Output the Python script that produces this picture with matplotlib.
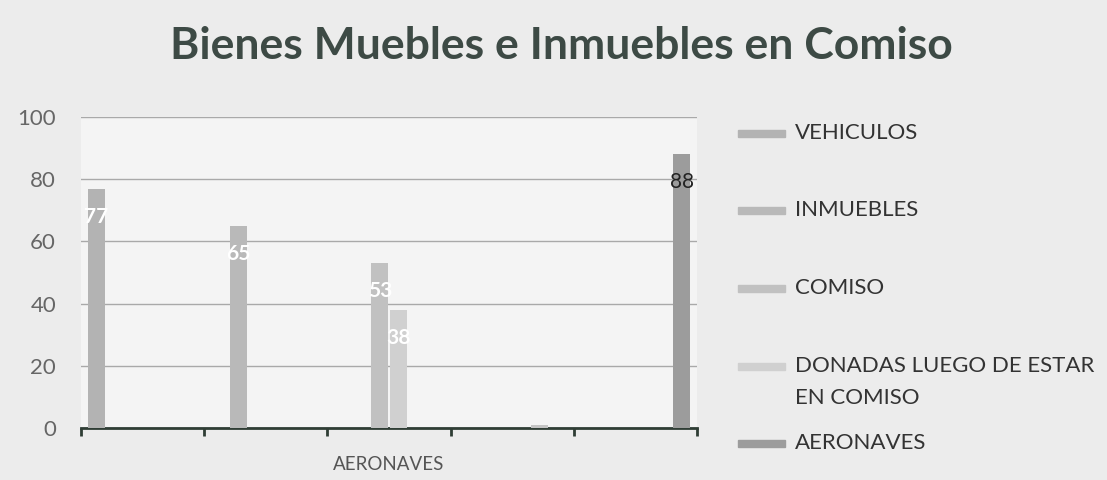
import matplotlib.pyplot as plt
from matplotlib.patches import Rectangle

# categories along x (only the middle one carries a label in the original)
categories = ['', '', 'AERONAVES', '', '']

# one list per series, one value per category
series_names = ['VEHICULOS', 'INMUEBLES', 'COMISO',
                'DONADAS LUEGO DE ESTAR\nEN COMISO', '', 'AERONAVES']
vehiculos = [77, 0, 0, 0, 0]
inmuebles = [0, 65, 0, 0, 0]
comiso = [0, 0, 53, 0, 0]
donadas = [0, 0, 38, 0, 0]
sin_nombre = [0, 0, 0, 1, 0]
aeronaves = [0, 0, 0, 0, 88]
series_values = [vehiculos, inmuebles, comiso, donadas, sin_nombre, aeronaves]

colors = ['#b3b3b3', '#b9b9b9', '#c1c1c1', '#d0d0d0', '#c4c4c4', '#9c9c9c']
label_colors = ['white', 'white', 'white', 'white', 'white', '#222222']

FONT = ['Lato', 'DejaVu Sans']
plt.rcParams['font.family'] = FONT

fig = plt.figure(figsize=(11.07, 4.8), dpi=100)
fig.patch.set_facecolor('#ececec')
ax = fig.add_axes([0.0732, 0.1083, 0.5565, 0.648])
ax.set_facecolor('#f4f4f4')

slot = 0.15
width = 0.138
n = len(series_values)
for k, vals in enumerate(series_values):
    xs = [i + (k - (n - 1) / 2) * slot for i in range(len(categories))]
    ax.bar(xs, vals, width=width, color=colors[k], zorder=3)
    for x, v in zip(xs, vals):
        if v >= 10:
            ax.text(x, v - 9, str(v), ha='center', va='center',
                    fontsize=15, color=label_colors[k],
                    fontweight='bold' if label_colors[k] == 'white' else 'normal',
                    zorder=4)

ax.set_ylim(0, 100)
ax.set_xlim(-0.5, len(categories) - 0.5)
ax.set_yticks([0, 20, 40, 60, 80, 100])
ax.tick_params(axis='y', length=0, pad=18, labelsize=16, labelcolor='#666666')
ax.yaxis.grid(True, color='#a9a9a9', linewidth=1, zorder=0)

# boundaries ticks, labels at centres
ax.set_xticks([i - 0.5 for i in range(len(categories) + 1)])
ax.set_xticklabels([])
ax.set_xticks(range(len(categories)), minor=True)
ax.set_xticklabels(categories, minor=True)
ax.tick_params(axis='x', which='major', length=6, width=2, color='#2f3d35',
               direction='out')
ax.tick_params(axis='x', which='minor', length=0, pad=20, labelsize=13.5,
               labelcolor='#555555')

for s in ['top', 'right', 'left']:
    ax.spines[s].set_visible(False)
ax.spines['bottom'].set_color('#2f3d35')
ax.spines['bottom'].set_linewidth(2)

fig.text(0.507, 0.905, 'Bienes Muebles e Inmuebles en Comiso', ha='center',
         va='center', fontsize=32, fontweight='bold', color='#3d4a45')

# legend drawn by hand to copy the spacing of the original
legend_y = [133, 210, 288, 366, 443]
legend_idx = [0, 1, 2, 3, 5]
for y, k in zip(legend_y, legend_idx):
    fy = 1 - y / 480
    fig.patches.append(Rectangle((738 / 1107, fy - 3.5 / 480), 47 / 1107, 7 / 480,
                                 transform=fig.transFigure, color=colors[k]))
    for j, line in enumerate(series_names[k].split('\n')):
        fig.text(795 / 1107, fy - j * 32 / 480, line, ha='left', va='center',
                 fontsize=16, color='#333333')

fig.savefig('out.png', dpi=100, facecolor=fig.get_facecolor())
